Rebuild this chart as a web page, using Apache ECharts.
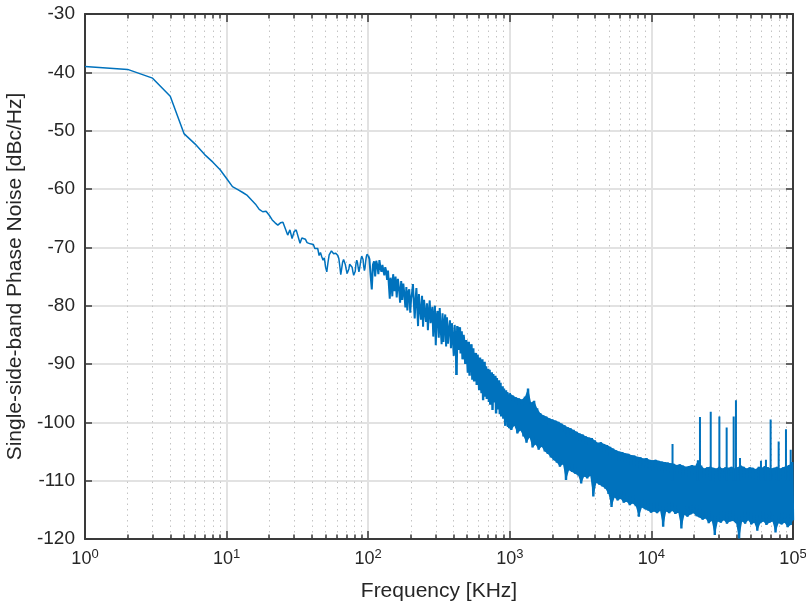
<!DOCTYPE html>
<html><head><meta charset="utf-8">
<script src="https://cdn.jsdelivr.net/npm/echarts@6/dist/echarts.min.js"></script>
<style>html,body{margin:0;padding:0;background:#fff}#c{width:806px;height:604px}</style>
</head><body><div id="c"></div>
<script>
// Frequencies in kHz, phase noise in dBc/Hz
const lowFreq = [1,2,3,4,5,6,7,8,9,10,11,12,13,14,15,16,17,18,19,20,21,22,23,24,25,26,27,28,29,30,31,32,33,34,35,36,37,38,39,40,41,42,43,44,45,46,47,48,49,50,51,52,53,54,55,56,57,58,59,60,61,62,63,64,65,66,67,68,69,70,71,72,73,74,75,76,77,78,79,80,81,82,83,84,85,86,87,88,89,90,91,92,93,94,95,96,97,98,99,100];
const lowNoise = [-39.0,-39.5,-41.0,-44.1,-50.5,-52.3,-54.1,-55.4,-56.7,-58.2,-59.6,-60.1,-60.6,-61.1,-61.9,-62.6,-63.5,-63.9,-63.8,-64.5,-65.3,-65.8,-66.2,-65.8,-65.7,-66.8,-67.9,-67.0,-68.5,-67.3,-67.0,-67.2,-69.3,-68.4,-68.2,-68.6,-69.2,-68.9,-69.4,-69.6,-69.5,-70.2,-70.5,-70.2,-71.4,-70.9,-71.6,-72.2,-71.8,-73.4,-74.2,-72.6,-71.3,-71.0,-70.6,-70.6,-71.1,-70.8,-71.0,-70.7,-71.4,-71.9,-73.2,-74.7,-73.6,-72.5,-72.1,-72.3,-73.0,-73.8,-74.5,-74.7,-73.7,-72.9,-72.7,-72.7,-73.4,-74.2,-74.8,-75.0,-74.1,-72.8,-72.2,-72.6,-73.5,-74.2,-73.6,-72.8,-72.0,-71.5,-71.3,-72.1,-73.3,-74.0,-73.5,-72.4,-71.6,-71.2,-71.0,-71.4];
const midFreq = [102,104,106,108,110,112,114,116,118,120,122,124,126,128,130,132,134,136,138,140,142,144,146,148,150,153,156,159,162,165,168,171,174,177,180,183,186,189,192,195,198,201,204,207,210,213,216,219,222,225,228,232,236,240,244,248,252,256,260,264,268,272,276,280,284,288,292,296,300,305,310,315,320,325,330,335,340,345,350,355,360,366,372,378,384,390,396,402,408,414,420,426,432,438,444,450,457,464,471,478,485,492,499,506,513,520,528,536,544,552,560,568,576,584,592,600,608,616,624,632,640,648,656,664,672,680,688,696,704,712,720,728,737,746,755,764,773,782,791,800,810,820,830,840,850,860,870,880,890,900,910,920,930,940,950,960,970,980,990];
const midNoise = [-72.0,-74.8,-77.2,-73.0,-72.4,-75.0,-72.3,-73.1,-74.6,-72.2,-73.5,-74.2,-73.0,-74.0,-74.8,-73.4,-74.1,-75.6,-74.0,-76.5,-78.8,-75.2,-76.0,-78.4,-74.6,-77.5,-75.0,-78.6,-75.4,-77.0,-79.5,-75.8,-79.0,-76.2,-78.0,-80.3,-76.8,-80.8,-77.6,-77.2,-81.2,-78.8,-77.8,-76.3,-79.5,-82.2,-79.0,-77.0,-80.4,-83.5,-78.0,-80.6,-82.4,-78.3,-83.6,-79.0,-81.2,-82.8,-79.6,-84.2,-81.0,-79.1,-83.0,-81.4,-80.2,-85.3,-82.0,-80.0,-86.8,-81.6,-80.9,-85.5,-80.4,-84.0,-86.6,-81.3,-86.2,-83.0,-81.5,-87.0,-82.0,-86.5,-84.0,-82.5,-87.3,-83.0,-85.8,-88.6,-83.3,-86.5,-91.9,-83.5,-87.6,-84.6,-83.7,-88.2,-84.4,-89.2,-85.0,-86.6,-90.0,-85.9,-88.5,-91.5,-86.2,-92.0,-87.4,-86.6,-92.7,-87.3,-93.0,-89.5,-88.1,-93.6,-88.4,-91.0,-94.5,-88.9,-93.2,-95.0,-89.2,-96.2,-90.5,-89.6,-95.6,-90.4,-96.0,-92.6,-90.8,-96.5,-91.0,-97.0,-92.8,-91.4,-97.9,-91.7,-96.6,-93.5,-92.0,-98.5,-92.4,-97.8,-94.6,-92.8,-98.6,-93.2,-99.0,-95.5,-93.8,-99.4,-94.2,-98.1,-100.6,-94.5,-99.2,-94.8,-100.8,-96.0,-101.0];
const highFreq = [1000,1025,1051,1077,1104,1131,1160,1189,1218,1249,1280,1312,1345,1379,1413,1448,1485,1522,1560,1599,1639,1680,1722,1765,1809,1854,1900,1948,1997,2047,2098,2150,2204,2259,2316,2374,2433,2494,2556,2620,2685,2752,2821,2892,2964,3038,3114,3192,3272,3353,3437,3523,3611,3701,3794,3889,3986,4086,4188,4292,4400,4510,4622,4738,4856,4978,5102,5230,5361,5495,5632,5773,5917,6065,6217,6372,6531,6695,6862,7034,7209,7390,7574,7764,7958,8157,8361,8570,8784,9003,9228,9459,9696,9938,10187,10441,10702,10970,11244,11525,11813,12109,12411,12722,13040,13366,13700,14042,14393,14753,15122,15500,15888,16285,16692,17109,17537,17976,18425,18886,19358,19842,20338,20846,21367,21901,22449,23010,23585,24175,24780,25399,26034,26685,27352,28036,28737,29455,30192,30946,31720,32513,33326,34159,35013,35889,36786,37706,38648,39614,40605,41620,42660,43727,44820,45941,47089,48266,49473,50710,51978,53277,54609,55974,57374,58808,60278,61785,63330,64913,66536,68199,69904,71652,73443,75279,77161,79090,81068,83094,85172,87301,89484,91721,94014,96364,98773,100000];
const highNoise = [-95.0,-101.3,-95.4,-100.6,-95.7,-101.9,-95.9,-101.4,-96.1,-102.4,-95.6,-103.5,-94.2,-102.6,-96.6,-104.3,-96.3,-103.8,-97.6,-104.7,-98.4,-104.2,-98.8,-105.0,-99.0,-105.4,-99.3,-106.0,-99.5,-106.5,-99.7,-106.9,-99.9,-107.6,-100.2,-107.2,-100.5,-109.9,-100.8,-108.2,-101.0,-108.5,-101.3,-108.8,-101.6,-109.1,-101.9,-110.5,-102.1,-109.3,-102.4,-109.6,-102.6,-109.2,-102.7,-112.7,-103.1,-110.4,-103.5,-110.7,-103.4,-111.0,-103.7,-111.4,-103.9,-112.3,-104.2,-114.5,-104.5,-112.9,-104.8,-113.4,-105.0,-113.1,-105.1,-113.8,-105.3,-113.6,-105.4,-114.2,-105.6,-113.9,-105.7,-114.4,-105.9,-116.2,-106.0,-114.6,-106.2,-114.9,-106.1,-115.1,-106.4,-115.5,-106.5,-115.3,-106.4,-115.6,-106.6,-115.2,-106.7,-117.9,-106.8,-115.3,-106.9,-115.6,-107.0,-115.2,-107.1,-115.7,-107.3,-115.5,-107.2,-118.2,-107.4,-115.9,-107.6,-116.2,-107.5,-115.8,-107.3,-115.6,-107.5,-116.1,-106.6,-116.3,-107.4,-116.7,-107.9,-116.5,-107.7,-117.3,-107.6,-116.9,-107.8,-119.3,-107.9,-117.0,-107.6,-117.2,-107.9,-116.8,-107.7,-117.4,-107.8,-117.0,-107.6,-116.9,-107.9,-117.3,-107.7,-119.9,-107.4,-117.0,-107.6,-117.4,-107.9,-116.8,-107.7,-117.5,-107.8,-117.2,-108.0,-118.6,-107.6,-117.3,-107.8,-117.0,-107.5,-117.6,-107.7,-117.2,-107.9,-117.0,-107.8,-118.9,-107.6,-117.3,-107.9,-117.5,-107.7,-117.2,-107.5,-118.0,-107.3,-117.6,-106.8,-116.8];
// Narrow spurs above the noise floor
const spurFreq = [14100,21300,22030,26240,30200,34000,38100,39550,42250,59400,64400,69500,79200,89200,96300];
const spurTop = [-103.7,-106.5,-99.1,-98.2,-99.0,-100.9,-99.0,-96.2,-106.1,-106.6,-106.4,-99.5,-103.3,-101.2,-104.7];
const spurBase = [-110,-110,-110,-110,-110,-110,-110,-110,-110,-110,-110,-110,-110,-110,-110];
const yTicks = {min: -120, max: -30, interval: 10};

const allPts = [];
[[lowFreq, lowNoise], [midFreq, midNoise], [highFreq, highNoise]].forEach(([f, v]) => {
  f.forEach((x, i) => allPts.push([x, v[i]]));
});
// trace split by density: thin where sparse, heavier where the noise is dense
const lowData = allPts.filter(p => p[0] <= 100);
const midData = allPts.filter(p => p[0] >= 100 && p[0] <= 420);
const denseData = allPts.filter(p => p[0] >= 420);
// solid core of the dense floor: polygon through local maxima (top) and local minima (bottom)
const bandPts = allPts.filter(p => p[0] >= 990);
const upperChain = [], lowerChain = [];
bandPts.forEach((p, i) => {
  const a = bandPts[i - 1], b = bandPts[i + 1];
  if (!a || !b) { upperChain.push(p); lowerChain.push(p); return; }
  if (p[1] >= a[1] && p[1] >= b[1]) upperChain.push(p);
  if (p[1] <= a[1] && p[1] <= b[1]) lowerChain.push(p);
});
const bandOutline = upperChain.concat(lowerChain.slice().reverse());
const spurData = [];
spurFreq.forEach((f, i) => { spurData.push([f, spurBase[i]], [f, spurTop[i]], [f, null]); });

const FONT = '"Liberation Sans", Arial, Helvetica, sans-serif';
const AX = '#3a3a3a';
const TXT = '#262626';
const BLUE = '#0072BD';

const chart = echarts.init(document.getElementById('c'), null, {renderer: 'canvas'});
const xCommon = {
  type: 'log', logBase: 10, min: 1, max: 100000, gridIndex: 0,
  axisLine: {show: true, onZero: false, lineStyle: {color: AX, width: 2}},
  axisTick: {show: true, inside: true, length: 8, lineStyle: {color: AX, width: 1.5}},
  minorTick: {show: true, splitNumber: 9, length: 4.5, lineStyle: {color: AX, width: 1.5}}
};
chart.setOption({
  animation: false,
  backgroundColor: '#fff',
  grid: {left: 85, right: 13, top: 14, bottom: 65, outerBoundsMode: 'none', containLabel: false},
  xAxis: [
    Object.assign({}, xCommon, {
      position: 'bottom',
      name: 'Frequency [KHz]', nameLocation: 'middle', nameGap: 42,
      nameTextStyle: {fontFamily: FONT, fontSize: 21, color: TXT},
      splitLine: {show: true, lineStyle: {color: '#e2e2e2', width: 2}},
      minorSplitLine: {show: true, lineStyle: {color: '#c4c4c4', width: 1, type: [1.5, 4]}},
      axisLabel: {
        margin: 9,
        formatter: v => '{b|10}{s|' + Math.round(Math.log10(v)) + '}',
        rich: {
          b: {fontFamily: FONT, fontSize: 18, color: TXT, verticalAlign: 'bottom'},
          s: {fontFamily: FONT, fontSize: 13, color: TXT, verticalAlign: 'bottom', padding: [0, 0, 7, 0]}
        }
      }
    }),
    Object.assign({}, xCommon, {
      position: 'top',
      axisLabel: {show: false},
      splitLine: {show: false},
      minorSplitLine: {show: false}
    })
  ],
  yAxis: [
    {
      type: 'value', min: yTicks.min, max: yTicks.max, interval: yTicks.interval, position: 'left',
      name: 'Single-side-band Phase Noise [dBc/Hz]', nameLocation: 'middle', nameGap: 46,
      nameTextStyle: {fontFamily: FONT, fontSize: 21, color: TXT},
      axisLine: {show: true, onZero: false, lineStyle: {color: AX, width: 2}},
      axisTick: {show: true, inside: true, length: 7, lineStyle: {color: AX, width: 1.5}},
      splitLine: {show: true, lineStyle: {color: '#e2e2e2', width: 2}},
      axisLabel: {margin: 10, fontFamily: FONT, fontSize: 19, color: TXT}
    },
    {
      type: 'value', min: yTicks.min, max: yTicks.max, interval: yTicks.interval, position: 'right',
      axisLine: {show: true, onZero: false, lineStyle: {color: AX, width: 2}},
      axisTick: {show: true, inside: true, length: 7, lineStyle: {color: AX, width: 1.5}},
      splitLine: {show: false},
      axisLabel: {show: false}
    }
  ],
  series: [
    {
      type: 'custom', xAxisIndex: 0, yAxisIndex: 0, z: 2, silent: true,
      data: [0],
      renderItem: (params, api) => ({
        type: 'polygon',
        shape: {points: bandOutline.map(p => api.coord(p))},
        style: {fill: BLUE, stroke: null}
      })
    },
    {
      type: 'line', xAxisIndex: 0, yAxisIndex: 0, data: lowData,
      showSymbol: false, symbol: 'none', z: 3,
      lineStyle: {color: BLUE, width: 1.5}
    },
    {
      type: 'line', xAxisIndex: 0, yAxisIndex: 0, data: midData,
      showSymbol: false, symbol: 'none', z: 3,
      lineStyle: {color: BLUE, width: 2}
    },
    {
      type: 'line', xAxisIndex: 0, yAxisIndex: 0, data: denseData,
      showSymbol: false, symbol: 'none', z: 3,
      lineStyle: {color: BLUE, width: 2.4, join: 'miter', miterLimit: 2}
    },
    {
      type: 'line', xAxisIndex: 0, yAxisIndex: 0, data: spurData,
      showSymbol: false, symbol: 'none', z: 3, connectNulls: false,
      lineStyle: {color: BLUE, width: 2}
    }
  ]
});
</script>
</body></html>
